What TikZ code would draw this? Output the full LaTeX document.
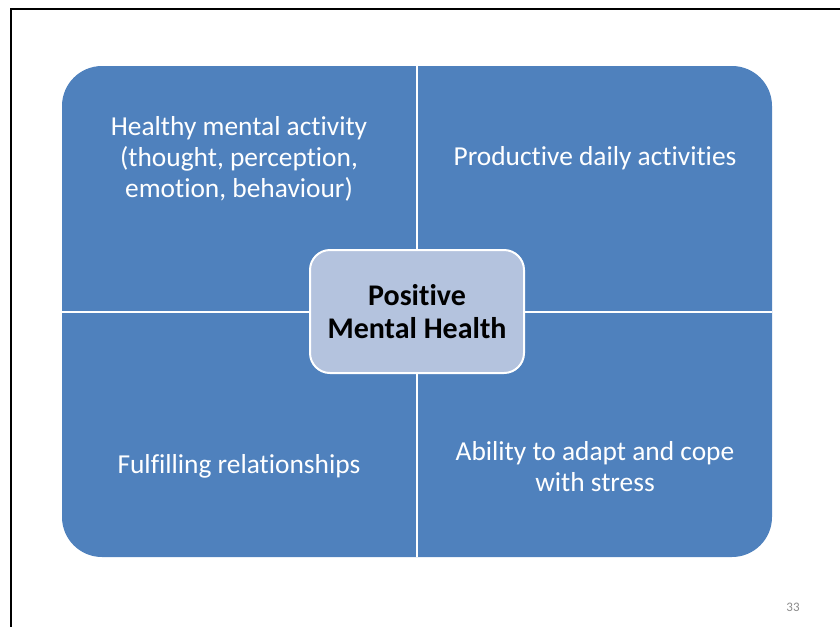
\documentclass[tikz,border=0pt]{standalone}
\usepackage{fontspec}
\setmainfont{Carlito}[Ligatures=NoCommon]
\usetikzlibrary{positioning}
\definecolor{MhBlue}{HTML}{4F81BD}
\definecolor{MhLight}{HTML}{B4C3DE}
\definecolor{MhGray}{HTML}{8C8C8C}
\tikzset{
  quadtext/.style={align=center, text=white, inner sep=0pt,
                   font=\fontsize{27.4}{31}\selectfont},
  hubbox/.style={draw=white, line width=2pt, fill=MhLight, rounded corners=20pt,
                 minimum width=214pt, minimum height=123pt, align=center,
                 font=\fontsize{30}{33}\selectfont\bfseries, text=black},
  divider/.style={draw=white, line width=2pt},
  pagenum/.style={font=\fontsize{13}{15}\selectfont, text=MhGray},
}

\begin{document}
\begin{tikzpicture}[x=1pt, y=-1pt]

  \useasboundingbox (0,0) rectangle (840,627);

  % slide frame
  \draw[line width=2pt] (840,9) -- (11,9) -- (11,627);

  % matrix of four quadrants
  \fill[MhBlue, rounded corners=40pt] (62,66) rectangle (772,557);
  \draw[divider] (417,66) -- (417,557);
  \draw[divider] (62,312) -- (772,312);

  \node[quadtext] (mind)   at (239,159) {Healthy mental activity\\(thought, perception,\\emotion, behaviour)};
  \node[quadtext] (work)   at (595,158) {Productive daily activities};
  \node[quadtext] (people) at (239,466) {Fulfilling relationships};
  \node[quadtext] (stress) at (595,467) {Ability to adapt and cope\\with stress};

  \node[hubbox] (hub) at (417,311.5) {Positive\\Mental Health};

  \node[pagenum] (page) at (793,607) {33};

\end{tikzpicture}
\end{document}
